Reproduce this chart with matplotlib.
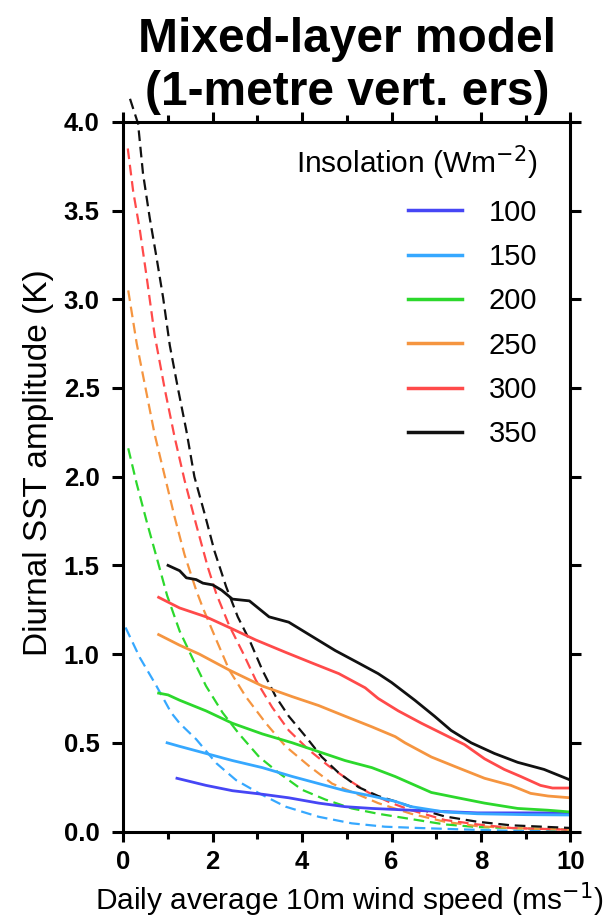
import numpy as np
import matplotlib.pyplot as plt

plt.rcParams['font.family'] = ['Liberation Sans', 'DejaVu Sans']

insolation = ['100', '150', '200', '250', '300', '350']
colors = ['#4646f5', '#36a8ff', '#2cd82c', '#f59540', '#ff4a4a', '#111111']

# solid lines: mixed-layer model
x100 = [1.2, 1.85, 2.44, 3.11, 3.70, 4.37, 4.96, 5.56, 6.44, 7.92, 10.0]
y100 = [0.30, 0.26, 0.23, 0.21, 0.19, 0.16, 0.14, 0.13, 0.12, 0.105, 0.105]
x150 = [0.98, 1.26, 1.85, 2.44, 3.11, 3.78, 4.37, 4.96, 5.56, 6.08, 6.44, 7.19, 7.92, 9.0, 10.0]
y150 = [0.50, 0.48, 0.44, 0.40, 0.36, 0.31, 0.27, 0.23, 0.20, 0.17, 0.14, 0.11, 0.10, 0.095, 0.093]
x200 = [0.79, 1.0, 1.26, 1.85, 2.44, 3.11, 3.78, 4.37, 4.96, 5.56, 6.08, 6.89, 7.48, 8.08, 8.82, 9.5, 10.0]
y200 = [0.78, 0.77, 0.74, 0.68, 0.61, 0.55, 0.50, 0.45, 0.40, 0.36, 0.31, 0.22, 0.19, 0.16, 0.13, 0.12, 0.11]
x250 = [0.79, 1.26, 1.70, 2.37, 3.11, 3.78, 4.37, 4.96, 5.56, 6.08, 6.30, 6.89, 7.48, 8.08, 8.67, 9.11, 9.5, 10.0]
y250 = [1.11, 1.05, 1.0, 0.91, 0.82, 0.76, 0.71, 0.65, 0.59, 0.535, 0.50, 0.42, 0.36, 0.30, 0.26, 0.215, 0.20, 0.19]
x300 = [0.79, 1.26, 1.85, 2.37, 2.96, 3.63, 4.22, 4.82, 5.41, 5.70, 6.15, 6.67, 7.19, 7.63, 8.08, 8.52, 8.89, 9.33, 9.6, 10.0]
y300 = [1.32, 1.26, 1.21, 1.15, 1.08, 1.01, 0.95, 0.89, 0.81, 0.75, 0.68, 0.61, 0.545, 0.49, 0.41, 0.35, 0.31, 0.26, 0.245, 0.245]
x350 = [1.0, 1.26, 1.41, 1.63, 1.78, 2.0, 2.2, 2.44, 2.82, 3.26, 3.70, 4.22, 4.74, 5.26, 5.70, 6.0,
        6.52, 6.96, 7.33, 7.78, 8.30, 8.82, 9.41, 10.0]
y350 = [1.50, 1.47, 1.43, 1.42, 1.40, 1.39, 1.36, 1.31, 1.30, 1.21, 1.18, 1.10, 1.02, 0.95, 0.89, 0.84,
        0.74, 0.65, 0.57, 0.50, 0.44, 0.39, 0.35, 0.29]

# dashed lines
dx150 = [0.05, 0.37, 0.72, 1.07, 1.26, 1.63, 2.08, 2.52, 3.04, 3.63, 4.37, 5.11, 5.85, 6.59, 7.56, 8.5, 10.0]
dy150 = [1.15, 0.98, 0.83, 0.67, 0.61, 0.52, 0.385, 0.29, 0.215, 0.14, 0.083, 0.046, 0.027, 0.02, 0.012, 0.005, 0.0]
dx200 = [0.11, 0.30, 0.52, 0.74, 0.98, 1.26, 1.56, 1.85, 2.22, 2.59, 3.04, 3.48, 4.0, 4.52, 5.11, 5.70,
         6.44, 7.19, 7.92, 10.0]
dy200 = [2.16, 1.96, 1.75, 1.55, 1.33, 1.13, 0.97, 0.82, 0.67, 0.55, 0.42, 0.33, 0.235, 0.18, 0.13, 0.10,
         0.07, 0.04, 0.025, 0.01]
dx250 = [0.11, 0.30, 0.52, 0.70, 0.93, 1.15, 1.37, 1.63, 1.78, 2.08, 2.37, 2.74, 3.19, 3.63, 4.15, 4.67,
         5.19, 5.70, 6.44, 7.19, 7.92, 8.67, 10.0]
dy250 = [3.05, 2.75, 2.47, 2.24, 2.0, 1.77, 1.56, 1.36, 1.26, 1.08, 0.91, 0.76, 0.61, 0.48, 0.37, 0.27,
         0.215, 0.16, 0.10, 0.055, 0.03, 0.02, 0.01]
dx300 = [0.1, 0.22, 0.37, 0.52, 0.70, 0.93, 1.15, 1.37, 1.63, 1.89, 2.08, 2.37, 2.67, 2.96, 3.33, 3.70,
         4.15, 4.59, 5.04, 5.48, 6.0, 6.44, 7.19, 7.92, 8.67, 10.0]
dy300 = [3.85, 3.61, 3.39, 3.13, 2.80, 2.49, 2.22, 1.98, 1.73, 1.49, 1.34, 1.16, 1.01, 0.855, 0.70, 0.57,
         0.46, 0.37, 0.29, 0.22, 0.16, 0.12, 0.065, 0.04, 0.02, 0.01]
dx350 = [0.15, 0.33, 0.44, 0.59, 0.74, 0.89, 1.04, 1.22, 1.41, 1.59, 1.82, 2.04, 2.30, 2.56, 2.82, 3.11,
         3.41, 3.70, 4.08, 4.44, 4.82, 5.26, 5.70, 6.08, 6.44, 7.19, 7.92, 8.67, 10.0]
dy350 = [4.13, 3.99, 3.71, 3.46, 3.24, 3.01, 2.74, 2.50, 2.26, 2.0, 1.79, 1.58, 1.38, 1.21, 1.08, 0.91,
         0.76, 0.65, 0.535, 0.42, 0.33, 0.25, 0.20, 0.17, 0.14, 0.085, 0.055, 0.035, 0.02]

solid_x = [x100, x150, x200, x250, x300, x350]
solid_y = [y100, y150, y200, y250, y300, y350]
dash_x = [None, dx150, dx200, dx250, dx300, dx350]
dash_y = [None, dy150, dy200, dy250, dy300, dy350]

fig = plt.figure(figsize=(6.15, 9.24), dpi=100)
ax = fig.add_axes([0.2005, 0.1001, 0.727, 0.768])

for i in range(len(insolation)):
    if dash_x[i] is not None:
        ax.plot(dash_x[i], dash_y[i], color=colors[i], lw=1.6, ls=(0, (4.8, 2.6)), clip_on=False)
for i in range(len(insolation)):
    ax.plot(solid_x[i], solid_y[i], color=colors[i], lw=2.0, label=insolation[i])

ax.set_xlim(0, 10)
ax.set_ylim(0, 4.0)
ax.set_xticks(np.arange(0, 11, 2))
ax.set_xticks(np.arange(1, 10, 2), minor=True)
ax.set_yticks(np.arange(0, 4.01, 0.5))
ax.set_yticklabels(['%.1f' % v for v in np.arange(0, 4.01, 0.5)])

for s in ax.spines.values():
    s.set_linewidth(2.2)
ax.tick_params(axis='both', which='major', direction='out', length=8, width=2.2,
               labelsize=18.5, top=True, right=True)
ax.tick_params(axis='x', which='minor', direction='out', length=5, width=2.2, top=True)
ax.tick_params(axis='x', which='major', length=7, pad=6)
ax.tick_params(axis='y', which='major', pad=9)
for lab in ax.get_xticklabels() + ax.get_yticklabels():
    lab.set_fontweight('bold')

ax.set_xlabel('Daily average 10m wind speed (ms$^{-1}$)', fontsize=21.5, va='baseline')
ax.xaxis.set_label_coords(0.505, -0.111)
ax.set_ylabel('Diurnal SST amplitude (K)', fontsize=24)
ax.yaxis.set_label_coords(-0.155, 0.52)

leg = ax.legend(title='Insolation (Wm$^{-2}$)', loc='upper right', bbox_to_anchor=(0.926, 0.969),
                frameon=False, fontsize=21, title_fontsize=21.5, handlelength=1.85,
                handletextpad=0.9, labelspacing=0.56, borderpad=0, borderaxespad=0,
                alignment='right')
for h in leg.get_lines():
    h.set_linewidth(2.5)

fig.text(0.565, 0.982, 'Mixed-layer model\n(1-metre vert. ers)', ha='center', va='top',
         fontsize=34.5, fontweight='bold', linespacing=1.25)

fig.savefig('out.png', dpi=100)
